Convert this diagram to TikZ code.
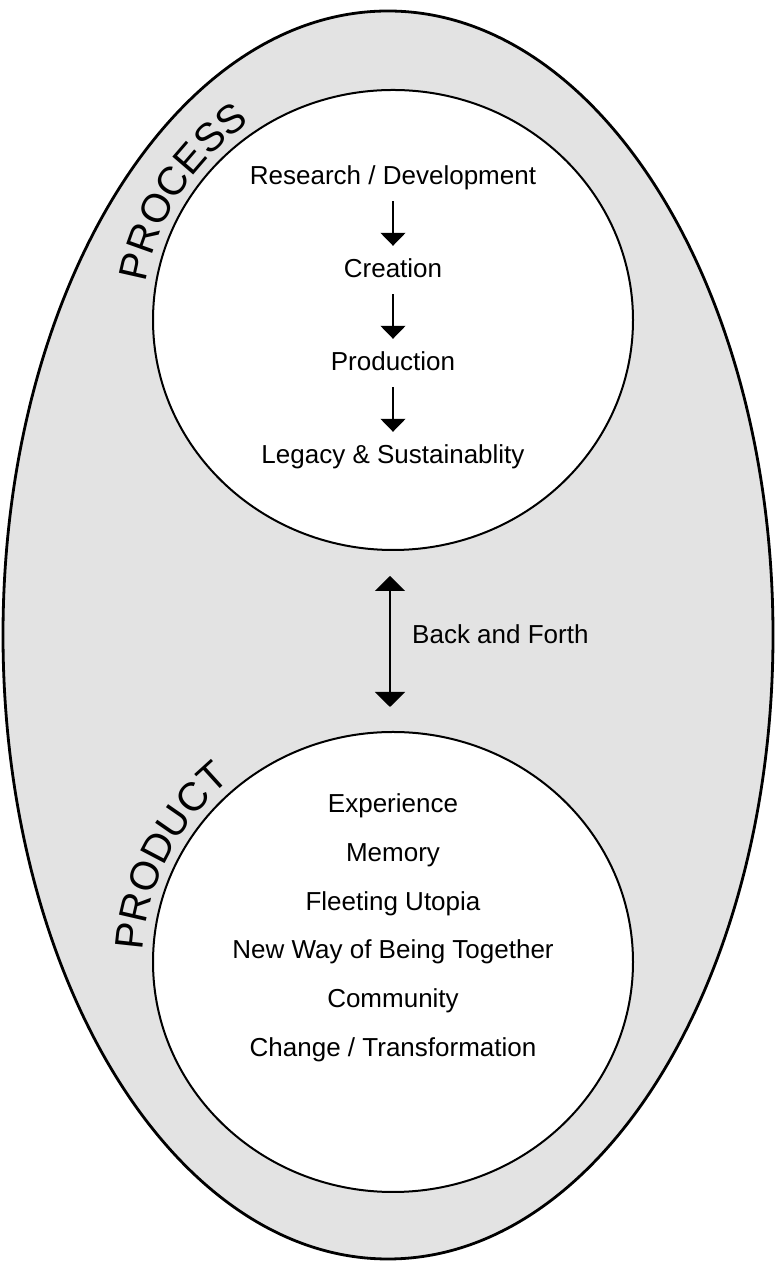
\documentclass[tikz,border=0pt]{standalone}
\usepackage{fontspec}
\setmainfont{Liberation Sans}
\usetikzlibrary{shapes.geometric,arrows.meta,decorations.text}
\definecolor{ringgrey}{HTML}{E3E3E3}
\begin{document}
\begin{tikzpicture}[x=1pt,y=1pt,
  outerring/.style={ellipse, draw, line width=2.8pt, fill=ringgrey, minimum width=770pt, minimum height=1248pt, inner sep=0pt},
  innerring/.style={ellipse, draw, line width=2pt, fill=white, minimum width=480pt, minimum height=460pt, inner sep=0pt},
  item/.style={font=\fontsize{26}{30}\selectfont, inner sep=0pt, text height=19pt, text depth=5pt},
  flowarrow/.style={-{Triangle[width=25pt,length=13pt]}, line width=1.5pt, shorten <=11pt, shorten >=13pt},
  bothway/.style={{Triangle[width=30pt,length=15pt]}-{Triangle[width=30pt,length=15pt]}, line width=2pt, shorten <=25pt, shorten >=24pt},
  ringlabel/.style={decorate, decoration={text along path, text align=center, text={|\fontsize{40}{40}\selectfont|#1}}}
]
\useasboundingbox (0,0) rectangle (774,1261);
\node[outerring] (outer) at (388,626) {};
\node[innerring] (top) at (393,941) {};
\node[innerring] (bottom) at (393,299) {};

% ring labels
\path[ringlabel=PROCESS] (393,941) ++(178:250 and 240) arc[start angle=178, end angle=118, x radius=250, y radius=240];
\path[ringlabel=PRODUCT] (393,299) ++(184:250 and 240) arc[start angle=184, end angle=124, x radius=250, y radius=240];

% process steps
\node[item] (rd) at (393,1083) {Research / Development};
\node[item] (cr) at (393,990) {Creation};
\node[item] (pr) at (393,897) {Production};
\node[item] (ls) at (393,804) {Legacy \& Sustainablity};
\draw[flowarrow] (rd) -- (cr);
\draw[flowarrow] (cr) -- (pr);
\draw[flowarrow] (pr) -- (ls);

% product items
\node[item] (ex) at (393,455) {Experience};
\node[item] (me) at (393,406) {Memory};
\node[item] (fu) at (393,357) {Fleeting Utopia};
\node[item] (nw) at (393,309) {New Way of Being Together};
\node[item] (co) at (393,260) {Community};
\node[item] (ct) at (393,211) {Change / Transformation};

% back and forth
\draw[bothway] ([xshift=-3pt]top.south) -- ([xshift=-3pt]bottom.north);
\node[item, anchor=west] (bf) at (412,624) {Back and Forth};
\end{tikzpicture}
\end{document}
